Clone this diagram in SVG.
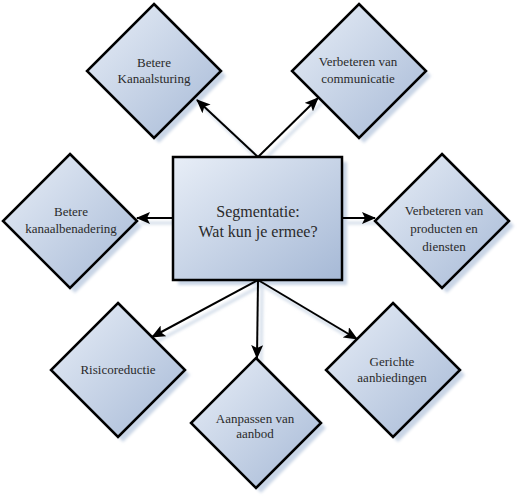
<svg xmlns="http://www.w3.org/2000/svg" width="520" height="502" viewBox="0 0 520 502">
<defs>
<linearGradient id="g" x1="0" y1="0" x2="1" y2="1">
<stop offset="0" stop-color="#e8eef7"/>
<stop offset="1" stop-color="#a6b9d6"/>
</linearGradient>
<filter id="blur" x="-20%" y="-20%" width="140%" height="140%"><feGaussianBlur stdDeviation="1.5"/></filter>
<marker id="ah" markerWidth="14" markerHeight="12" refX="13" refY="6" orient="auto" markerUnits="userSpaceOnUse">
<path d="M0,0 L14,6 L0,12 L3,6 Z" fill="#000"/>
</marker>
</defs>
<style>
.shape{fill:url(#g);stroke:#000;stroke-width:2.5;stroke-linejoin:miter}
.shadow{fill:#c9d5e6;filter:url(#blur)}
.t{font-family:'Liberation Serif','Times New Roman',serif;font-size:13px;fill:#2a2a2a;text-anchor:middle}
.big{font-size:16px}
.conn{stroke:#000;stroke-width:2;fill:none;marker-end:url(#ah)}
.connsh{stroke:#d3dde9;stroke-width:3;fill:none;filter:url(#blur)}
</style>
<rect width="520" height="502" fill="#fff"/>
<g id="connectors-shadow">
<path class="connsh" d="M262,162 L201,105 M262,162 L322,103 M178,223 L141,223 M347,223 L379,223 M262,285 L156,342 M262,285 L261,363 M262,285 L361,344"/>
</g>
<g id="center" font-family="Liberation Serif, serif">
<rect class="shadow" x="178" y="162" width="169" height="123"/>
<rect class="shape" x="173" y="157" width="169" height="123"/>
<text class="t big" x="258" y="217">Segmentatie:</text>
<text class="t big" x="258" y="237">Wat kun je ermee?</text>
</g>
<g id="n1" font-family="Liberation Serif, serif">
<polygon class="shadow" points="159,9 226,76 159,143 92,76"/>
<polygon class="shape" points="154,4 221,71 154,138 87,71"/>
<text class="t" x="154" y="67">Betere</text>
<text class="t" x="154" y="83">Kanaalsturing</text>
</g>
<g id="n2" font-family="Liberation Serif, serif">
<polygon class="shadow" points="364,9 431,76 364,143 297,76"/>
<polygon class="shape" points="359,4 426,71 359,138 292,71"/>
<text class="t" x="358" y="66">Verbeteren van</text>
<text class="t" x="358" y="83">communicatie</text>
</g>
<g id="n3" font-family="Liberation Serif, serif">
<polygon class="shadow" points="75,159 142,226 75,293 8,226"/>
<polygon class="shape" points="70,154 137,221 70,288 3,221"/>
<text class="t" x="71" y="216">Betere</text>
<text class="t" x="71" y="233">kanaalbenadering</text>
</g>
<g id="n4" font-family="Liberation Serif, serif">
<polygon class="shadow" points="447,159 514,226 447,293 380,226"/>
<polygon class="shape" points="442,154 509,221 442,288 375,221"/>
<text class="t" x="444" y="215">Verbeteren van</text>
<text class="t" x="444" y="233">producten en</text>
<text class="t" x="444" y="251">diensten</text>
</g>
<g id="n5" font-family="Liberation Serif, serif">
<polygon class="shadow" points="123,308 190,375 123,442 56,375"/>
<polygon class="shape" points="118,303 185,370 118,437 51,370"/>
<text class="t" x="118" y="374">Risicoreductie</text>
</g>
<g id="n6" font-family="Liberation Serif, serif">
<polygon class="shadow" points="261,363 326,428 261,493 196,428"/>
<polygon class="shape" points="256,358 321,423 256,488 191,423"/>
<text class="t" x="255" y="423">Aanpassen van</text>
<text class="t" x="255" y="438">aanbod</text>
</g>
<g id="n7" font-family="Liberation Serif, serif">
<polygon class="shadow" points="398,308 465,375 398,442 331,375"/>
<polygon class="shape" points="393,303 460,370 393,437 326,370"/>
<text class="t" x="392" y="366">Gerichte</text>
<text class="t" x="392" y="382">aanbiedingen</text>
</g>
<g id="connectors">
<path class="conn" d="M258,157 L197,100"/>
<path class="conn" d="M258,157 L318,98"/>
<path class="conn" d="M173,218 L137,218"/>
<path class="conn" d="M342,218 L375,218"/>
<path class="conn" d="M258,280 L152,337"/>
<path class="conn" d="M258,280 L257,358"/>
<path class="conn" d="M258,280 L357,339"/>
</g>
</svg>
